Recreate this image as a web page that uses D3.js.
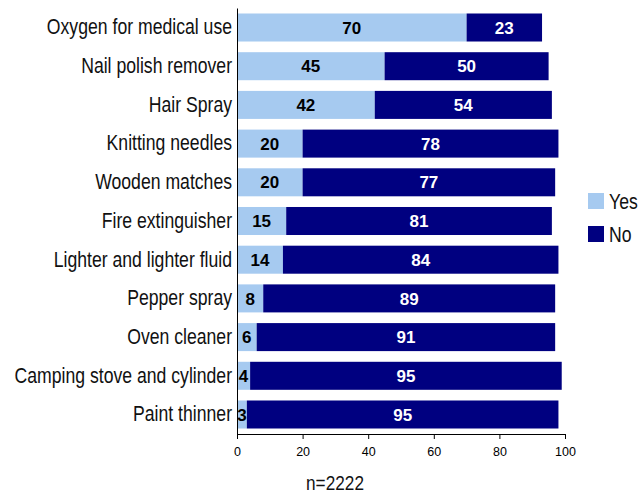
<!DOCTYPE html>
<html>
<head>
<meta charset="utf-8">
<script src="https://cdn.jsdelivr.net/npm/d3@7"></script>
<style>
  html, body { margin: 0; padding: 0; background: #fff; }
  svg { display: block; }
</style>
</head>
<body>
<svg id="chart" width="644" height="494"></svg>
<script>
// Items and survey answers (percent of respondents)
const categories = [
  "Oxygen for medical use",
  "Nail polish remover",
  "Hair Spray",
  "Knitting needles",
  "Wooden matches",
  "Fire extinguisher",
  "Lighter and lighter fluid",
  "Pepper spray",
  "Oven cleaner",
  "Camping stove and cylinder",
  "Paint thinner"
];
const yesValues = [70, 45, 42, 20, 20, 15, 14, 8, 6, 4, 3];
const noValues  = [23, 50, 54, 78, 77, 81, 84, 89, 91, 95, 95];
const seriesNames = ["Yes", "No"];
const xTicks = [0, 20, 40, 60, 80, 100];
const sampleNote = "n=2222";

const colors = { Yes: "#a6caf0", No: "#000080" };
const font = "'Liberation Sans', Arial, sans-serif";
const squeeze = 0.82; // condensed look for the larger labels

const svg = d3.select("#chart");
const margin = { left: 237, top: 8, right: 79, bottom: 60 };
const width = 644 - margin.left - margin.right;   // 328
const height = 494 - margin.top - margin.bottom;  // 426

const g = svg.append("g").attr("transform", `translate(${margin.left},${margin.top})`);

const x = d3.scaleLinear().domain([0, 100]).range([0, width]);
const y = d3.scaleBand().domain(categories).range([0, height]).paddingInner(0.276).paddingOuter(0.142);

const rows = categories.map((c, i) => ({ cat: c, yes: yesValues[i], no: noValues[i] }));

// stacked segments
const stack = d3.stack().keys(["yes", "no"])(rows);
stack.forEach((layer, li) => {
  const name = seriesNames[li];
  g.selectAll(null).data(layer).enter().append("rect")
    .attr("x", d => x(d[0]))
    .attr("y", d => y(d.data.cat))
    .attr("width", d => x(d[1]) - x(d[0]))
    .attr("height", y.bandwidth())
    .attr("fill", colors[name]);

  g.selectAll(null).data(layer).enter().append("text")
    .attr("x", d => (x(d[0]) + x(d[1])) / 2)
    .attr("y", d => y(d.data.cat) + y.bandwidth() / 2)
    .attr("dy", "0.36em")
    .attr("text-anchor", "middle")
    .attr("font-family", font)
    .attr("font-weight", "bold")
    .attr("font-size", 17)
    .attr("fill", name === "Yes" ? "#000" : "#fff")
    .text(d => d[1] - d[0]);
});

// axes
const xAxis = g.append("g")
  .attr("transform", `translate(0,${height})`)
  .call(d3.axisBottom(x).tickValues(xTicks).tickSize(5).tickSizeOuter(0));
xAxis.select(".domain").attr("stroke", "#000");
xAxis.selectAll(".tick line").attr("stroke", "#000");
xAxis.selectAll("text")
  .attr("font-family", font).attr("font-size", 12.5).attr("fill", "#000").attr("dy", "1.1em");

const yAxis = g.append("g")
  .call(d3.axisLeft(y).tickSize(0).tickPadding(5));
yAxis.select(".domain").attr("stroke", "#000");
yAxis.selectAll("text")
  .attr("x", -5 / squeeze)
  .attr("transform", `scale(${squeeze},1)`)
  .attr("font-family", font).attr("font-size", 21.5).attr("fill", "#111");

// legend
const legend = svg.append("g").attr("transform", "translate(588,193)");
seriesNames.forEach((name, i) => {
  const row = legend.append("g").attr("transform", `translate(0,${i * 33})`);
  row.append("rect").attr("width", 16).attr("height", 16).attr("fill", colors[name]);
  row.append("text")
    .attr("transform", `translate(21,16) scale(${squeeze},1)`)
    .attr("font-family", font).attr("font-size", 21.5).attr("fill", "#111").text(name);
});

// sample size note
svg.append("text")
  .attr("transform", `translate(335,490) scale(${squeeze},1)`)
  .attr("text-anchor", "middle")
  .attr("font-family", font).attr("font-size", 21).attr("fill", "#111")
  .text(sampleNote);
</script>
</body>
</html>
